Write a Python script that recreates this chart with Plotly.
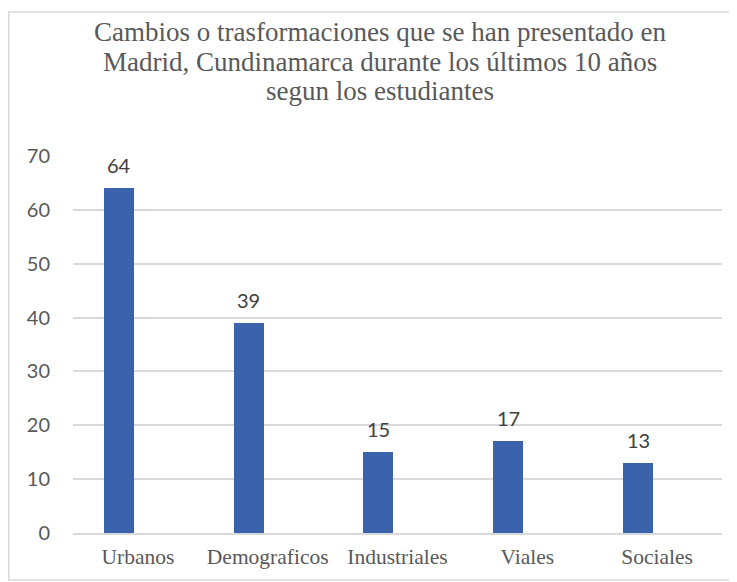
import plotly.graph_objects as go

categories = ["Urbanos", "Demograficos", "Industriales", "Viales", "Sociales"]
values = [64, 39, 15, 17, 13]
y_ticks = [0, 10, 20, 30, 40, 50, 60, 70]
title_lines = [
    "Cambios o trasformaciones que se han presentado en",
    "Madrid, Cundinamarca durante los últimos 10 años",
    "segun los estudiantes",
]

BAR_COLOR = "#3A63AC"
GRID = "#D9D9D9"
TXT = "#595959"

# figure is placed by the page with an 8px body margin
W, H = 729, 574
L, R, T, B = 65, 15, 148, 49
PW, PH = W - L - R, H - T - B


def px_x(xf):
    return (xf - L) / PW


def px_y(yf):
    return (H - B - yf) / PH


fig = go.Figure()
fig.add_trace(go.Bar(
    x=categories, y=values,
    marker=dict(color=BAR_COLOR, line=dict(width=0)),
    width=0.231, offset=-0.262,
    hoverinfo="x+y",
))

for c, v in zip(categories, values):
    fig.add_annotation(
        x=c, y=v, text=str(v), showarrow=False,
        xanchor="center", yanchor="bottom", xshift=-19, yshift=9,
        font=dict(family="Lato, Carlito, sans-serif", size=20, color="#404040"),
    )

title_y = [24, 54, 83]
for line, yy in zip(title_lines, title_y):
    fig.add_annotation(
        x=px_x(372), y=px_y(yy), xref="paper", yref="paper",
        text=line, showarrow=False, xanchor="center", yanchor="middle",
        font=dict(family="Liberation Serif, Times New Roman, serif", size=27, color=TXT),
    )

fig.update_layout(
    width=W, height=H,
    margin=dict(l=L, r=R, t=T, b=B),
    paper_bgcolor="white", plot_bgcolor="white",
    showlegend=False,
    bargap=0,
    xaxis=dict(
        range=[-0.5, 4.5],
        showgrid=False, zeroline=False,
        showline=True, linecolor=GRID, linewidth=1.5,
        ticks="", ticklabelstandoff=3,
        tickfont=dict(family="Liberation Serif, Times New Roman, serif", size=21.5, color=TXT),
    ),
    yaxis=dict(
        range=[0, 70], tickvals=y_ticks,
        showgrid=True, gridcolor=GRID, gridwidth=1.5,
        zeroline=False, showline=False,
        ticks="", ticklabelstandoff=22,
        tickfont=dict(family="Lato, Carlito, sans-serif", size=20, color=TXT),
    ),
    shapes=[dict(
        type="rect", xref="paper", yref="paper",
        x0=px_x(0.75), x1=px_x(W + 3),
        y0=px_y(572), y1=px_y(4),
        line=dict(color=GRID, width=1.5), fillcolor="rgba(0,0,0,0)", layer="below",
    )],
)

fig.write_html("out.html")
